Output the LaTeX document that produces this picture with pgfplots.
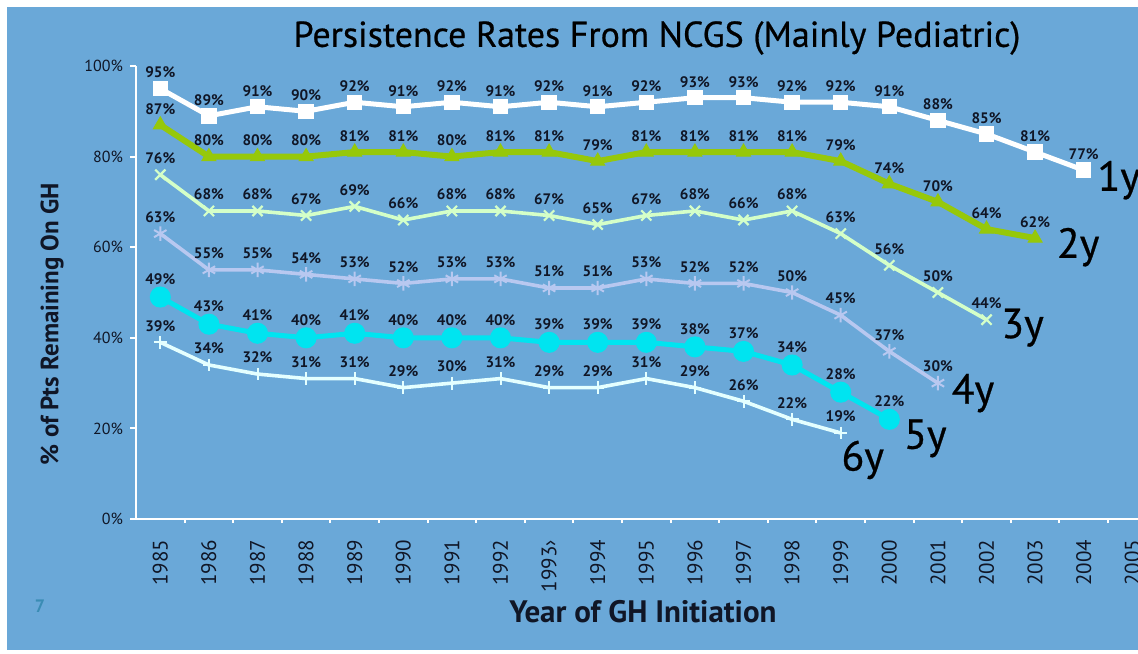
\documentclass[border=0pt]{standalone}
\usepackage{fontspec}
\setmainfont{PT Sans}
\newfontfamily\titlefont{PT Sans}[FakeBold=0.6]
\usepackage{pgfplots}
\pgfplotsset{compat=1.18}

\definecolor{bgblue}{RGB}{106,168,216}
\definecolor{ink}{RGB}{16,22,38}
\definecolor{pagenum}{RGB}{58,140,180}
\definecolor{ctwo}{RGB}{150,200,10}
\definecolor{cthree}{RGB}{212,255,200}
\definecolor{cfour}{RGB}{184,200,240}
\definecolor{cfive}{RGB}{0,228,240}
\definecolor{csix}{RGB}{228,255,255}

\begin{document}
\begin{tikzpicture}
\path[use as bounding box] (0,0) rectangle (569pt,-326.5pt);
\clip (0,0) rectangle (569pt,-326.5pt);
\fill[white] (0,0) rectangle (569pt,-326.5pt);
\fill[bgblue] (3.5pt,-3.5pt) rectangle (569pt,-325pt);

\begin{axis}[
  at={(68pt,-259.5pt)}, anchor=south west,
  x=24.3pt, y=2.265pt,
  xmin=1984.5, xmax=2005.5, ymin=0, ymax=100,
  clip=false,
  axis lines*=left,
  axis line style={white, line width=1.1pt},
  tick align=outside,
  every tick/.style={white, line width=1pt},
  major tick length=3pt,
  minor tick length=2pt,
  major x tick style={draw=none},
  minor xtick={1985.5,1986.5,...,2004.5},
  xtick={1985,1986,...,2005},
  xticklabels={1985,1986,1987,1988,1989,1990,1991,1992,1993›,1994,1995,1996,1997,1998,1999,2000,2001,2002,2003,2004,2005},
  xticklabel style={rotate=90, anchor=east, font=\fontsize{10.5pt}{11pt}\selectfont, text=ink, yshift=0pt, xshift=-4pt},
  ytick={0,20,...,100},
  yticklabel={\pgfmathprintnumber{\tick}\%},
  yticklabel style={font=\fontsize{8pt}{9pt}\selectfont, text=ink},
  /pgf/number format/assume math mode=true,
  point meta=y,
  nodes near coords={\pgfmathprintnumber[fixed,precision=0]{\pgfplotspointmeta}\%},
  every node near coord/.append style={font=\bfseries\fontsize{7.6pt}{8pt}\selectfont, text=ink, anchor=south, inner sep=0pt, yshift=5pt},
]
% 6 years on GH
\addplot[csix, line width=1.8pt, mark=+, mark size=3.2pt, mark options={solid, line width=1pt}] coordinates {
 (1985,39) (1986,34) (1987,32) (1988,31) (1989,31) (1990,29) (1991,30) (1992,31)
 (1993,29) (1994,29) (1995,31) (1996,29) (1997,26) (1998,22) (1999,19)};
% 5 years on GH
\addplot[cfive, line width=2.5pt, mark=*, mark size=4pt, mark options={solid, fill=cfive, draw=cfive}] coordinates {
 (1985,49) (1986,43) (1987,41) (1988,40) (1989,41) (1990,40) (1991,40) (1992,40)
 (1993,39) (1994,39) (1995,39) (1996,38) (1997,37) (1998,34) (1999,28) (2000,22)};
% 4 years on GH
\addplot[cfour, line width=1.8pt, mark=asterisk, mark size=3.6pt, mark options={solid, line width=1pt}] coordinates {
 (1985,63) (1986,55) (1987,55) (1988,54) (1989,53) (1990,52) (1991,53) (1992,53)
 (1993,51) (1994,51) (1995,53) (1996,52) (1997,52) (1998,50) (1999,45) (2000,37) (2001,30)};
% 3 years on GH
\addplot[cthree, line width=1.8pt, mark=x, mark size=3.6pt, mark options={solid, line width=1.1pt}] coordinates {
 (1985,76) (1986,68) (1987,68) (1988,67) (1989,69) (1990,66) (1991,68) (1992,68)
 (1993,67) (1994,65) (1995,67) (1996,68) (1997,66) (1998,68) (1999,63) (2000,56) (2001,50) (2002,44)};
% 2 years on GH
\addplot[ctwo, line width=3pt, mark=triangle*, mark size=4pt, mark options={solid, line width=0.5pt, fill=ctwo, draw=ctwo}] coordinates {
 (1985,87) (1986,80) (1987,80) (1988,80) (1989,81) (1990,81) (1991,80) (1992,81)
 (1993,81) (1994,79) (1995,81) (1996,81) (1997,81) (1998,81) (1999,79) (2000,74) (2001,70) (2002,64) (2003,62)};
% 1 year on GH
\addplot[white, line width=2.5pt, mark=square*, mark size=3.6pt, mark options={solid, line width=0.5pt, fill=white, draw=white}] coordinates {
 (1985,95) (1986,89) (1987,91) (1988,90) (1989,92) (1990,91) (1991,92) (1992,91)
 (1993,92) (1994,91) (1995,92) (1996,93) (1997,93) (1998,92) (1999,92) (2000,91) (2001,88) (2002,85) (2003,81) (2004,77)};

% series names at the end of each line
\begin{scope}[every node/.style={font=\titlefont\fontsize{21pt}{23pt}\selectfont, text=black}]
\node at (axis cs:2004,77) [xshift=17.5pt, yshift=-5pt] {1y};
\node at (axis cs:2003,62) [xshift=21.5pt, yshift=-4.5pt] {2y};
\node at (axis cs:2002,44) [xshift=18pt, yshift=-4pt] {3y};
\node at (axis cs:2001,30) [xshift=17.5pt, yshift=-5pt] {4y};
\node at (axis cs:2000,22) [xshift=18pt, yshift=-9.5pt] {5y};
\node at (axis cs:1999,19) [xshift=11pt, yshift=-13.5pt] {6y};
\end{scope}
\end{axis}

\node[font=\titlefont\fontsize{18pt}{20pt}\selectfont, text=black] at (328.5pt,-19pt) {Persistence Rates From NCGS (Mainly Pediatric)};
\node[font=\bfseries\fontsize{12.5pt}{14pt}\selectfont, text=ink, rotate=90] at (26pt,-162pt) {\% of Pts Remaining On GH};
\node[font=\bfseries\fontsize{15.5pt}{17pt}\selectfont, text=ink] at (321.5pt,-306pt) {Year of GH Initiation};
\node[font=\bfseries\fontsize{9pt}{10pt}\selectfont, text=pagenum] at (20pt,-303pt) {7};
\end{tikzpicture}
\end{document}
